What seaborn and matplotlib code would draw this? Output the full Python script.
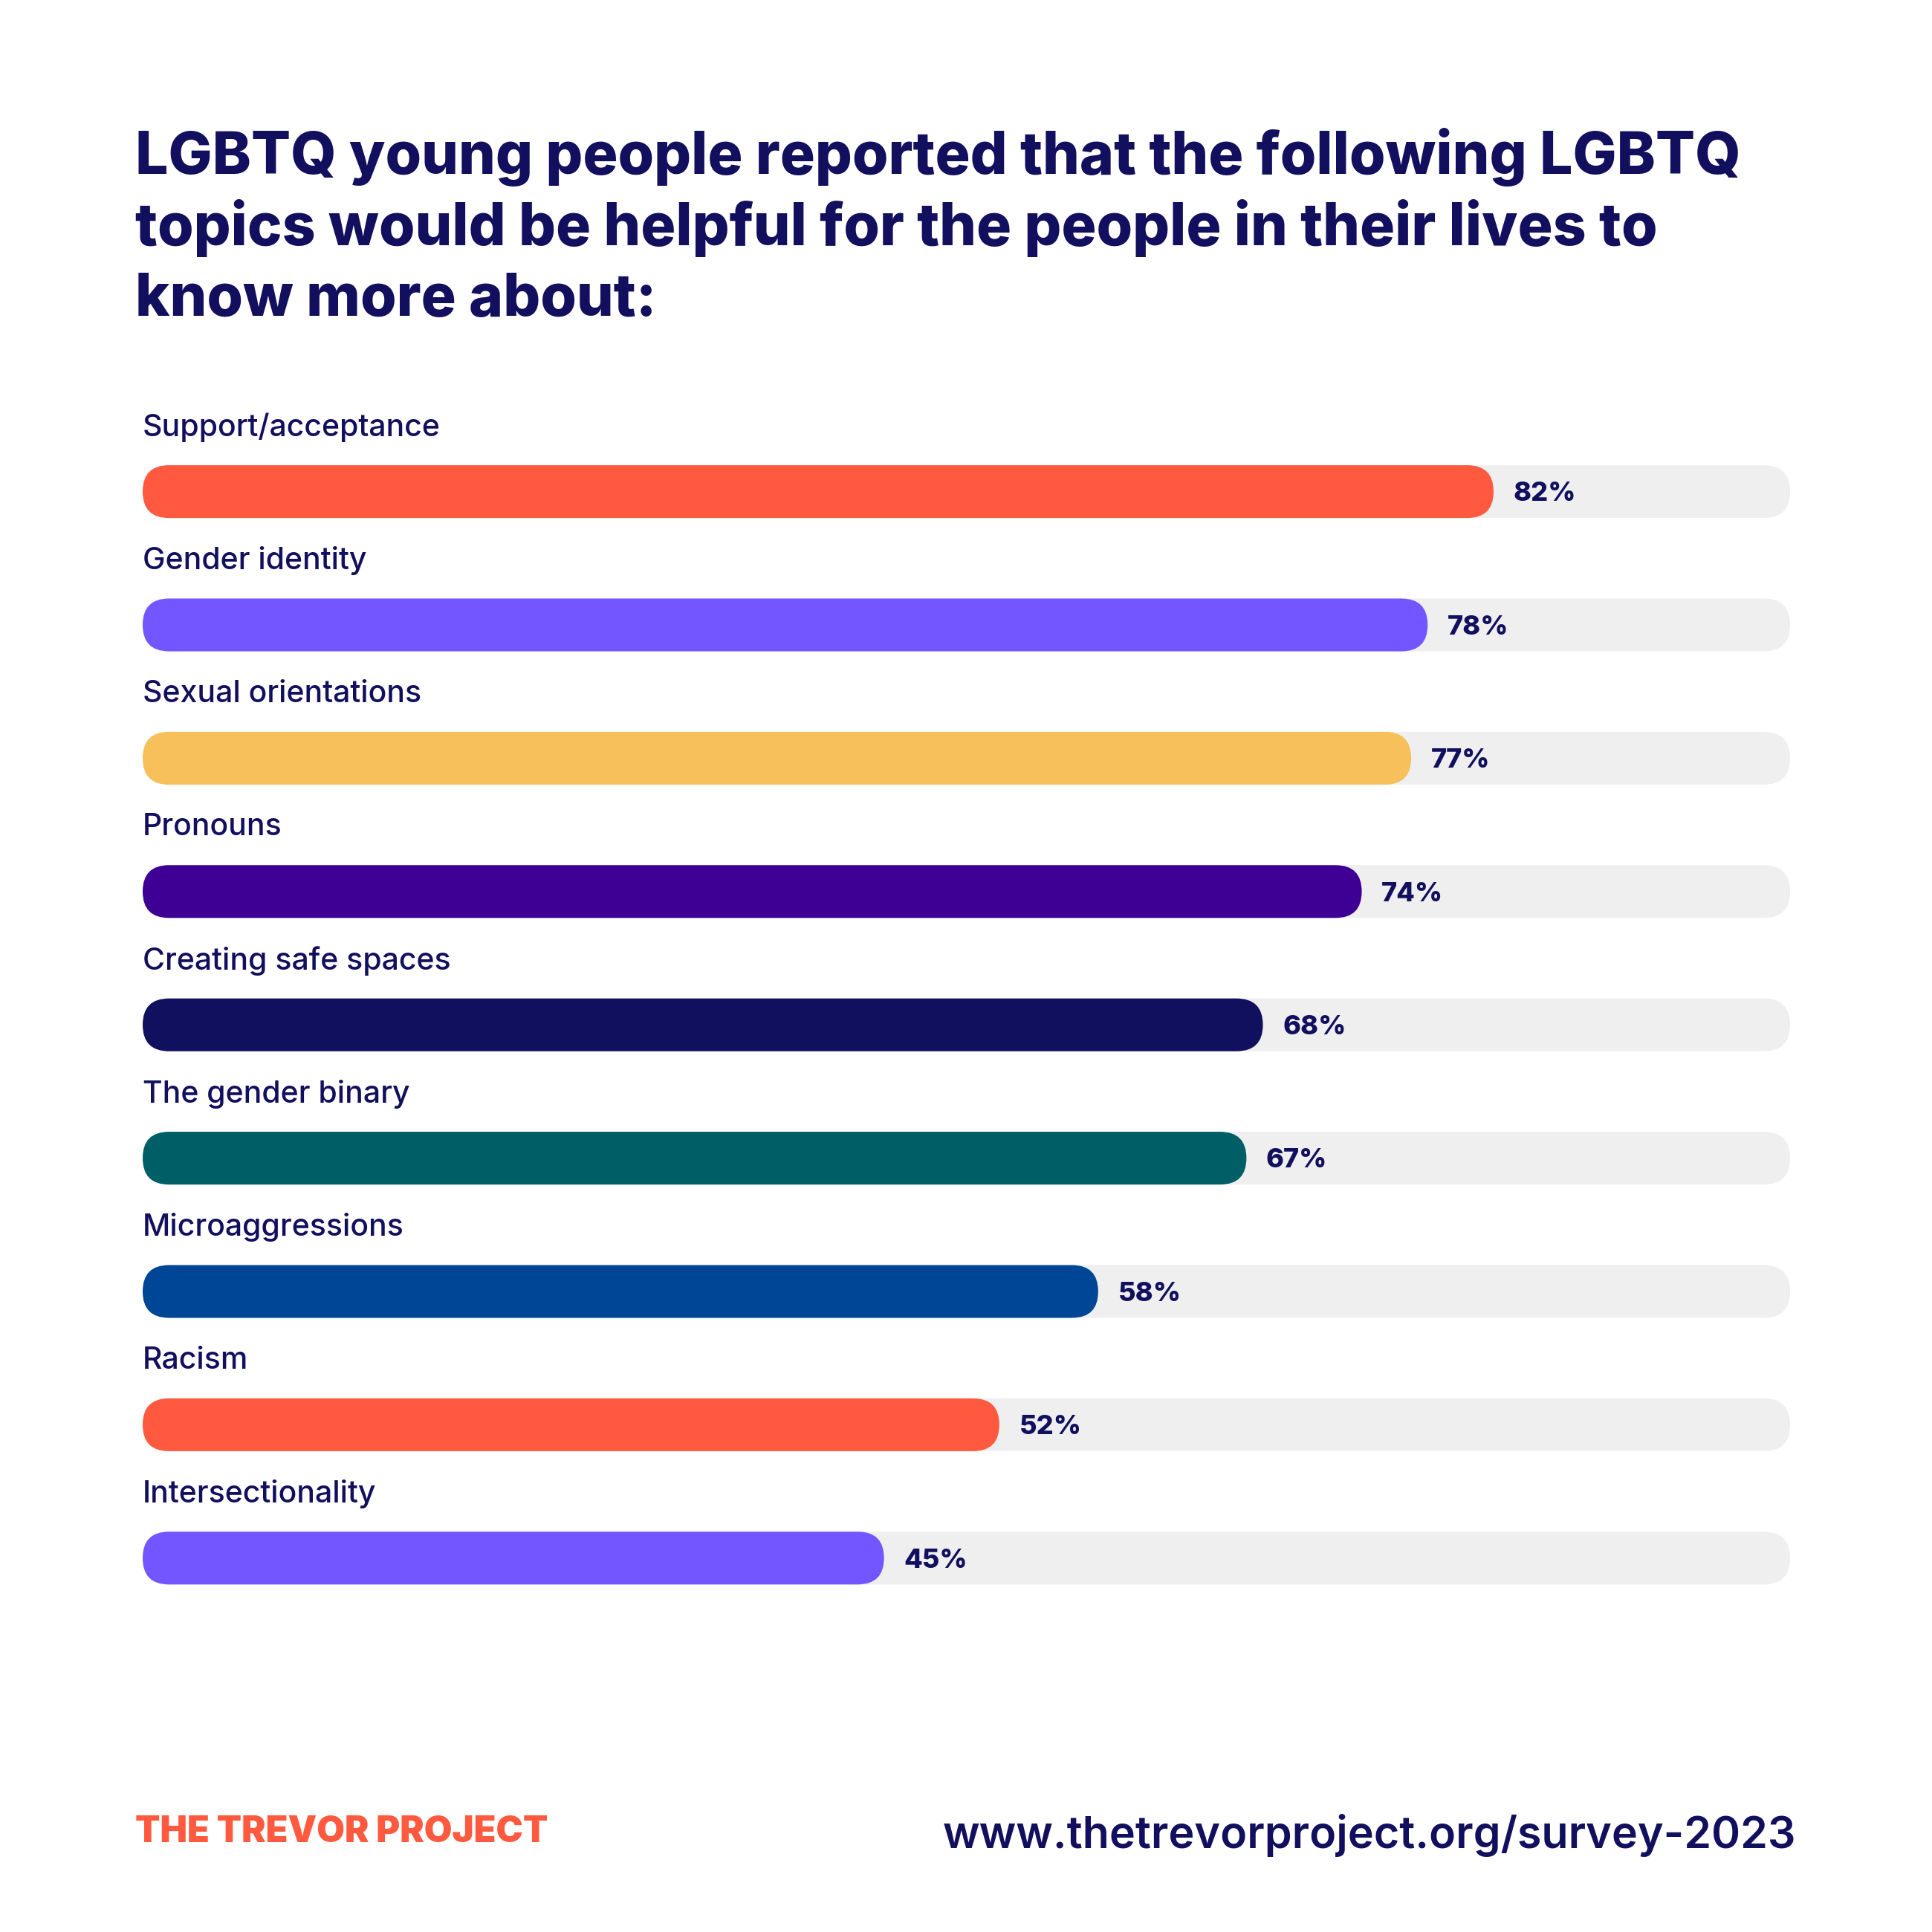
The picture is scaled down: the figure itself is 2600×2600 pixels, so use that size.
import matplotlib
matplotlib.use("Agg")
import matplotlib.pyplot as plt
from matplotlib.patches import FancyBboxPatch
import seaborn as sns
import pandas as pd

topics = ["Support/acceptance", "Gender identity", "Sexual orientations", "Pronouns",
          "Creating safe spaces", "The gender binary", "Microaggressions", "Racism",
          "Intersectionality"]
values = [82, 78, 77, 74, 68, 67, 58, 52, 45]
colors = ["#FF5A3F", "#7356FF", "#F8C05A", "#3E0094", "#10105F", "#005F66",
          "#004696", "#FF5A3F", "#7356FF"]
track = [100] * len(topics)

title_lines = ["LGBTQ young people reported that the following LGBTQ",
               "topics would be helpful for the people in their lives to",
               "know more about:"]
url = "www.thetrevorproject.org/survey-2023"
brand = "THE TREVOR PROJECT"

NAVY = "#12105E"
TRACK = "#EFEFEF"

df = pd.DataFrame({"topic": topics, "value": values, "track": track})

sns.set_theme(style="white")
plt.rcParams["font.family"] = ["Inter", "DejaVu Sans"]

W = H = 2600
fig = plt.figure(figsize=(26, 26), dpi=100)
fig.patch.set_facecolor("white")

# bar area: x 0..100 -> px 192..2409, rows spaced ~179 px
ax = fig.add_axes([192 / W, 1 - 2186.5 / H, 2217 / W, 1614.6 / H])
bar_h = 0.396

sns.barplot(data=df, x="track", y="topic", color=TRACK, width=bar_h,
            orient="h", ax=ax, saturation=1)
n_track = len(ax.patches)
sns.barplot(data=df, x="value", y="topic", hue="topic", palette=colors,
            width=bar_h, orient="h", ax=ax, legend=False, saturation=1)

ax.set_xlim(0, 100)
ax.set_ylim(len(topics) - 0.5, -0.5)

# swap the square bars for pill-shaped ones
px_x = 2217 / 100
px_y = 1614.6 / len(topics)
aspect = px_x / px_y
radius = bar_h * px_y / 2 / px_x
old = list(ax.patches)
for i, p in enumerate(old):
    x, y, w, h = p.get_x(), p.get_y(), p.get_width(), p.get_height()
    fc = p.get_facecolor()
    p.remove()
    pill = FancyBboxPatch((x, y), w, h,
                          boxstyle=f"round,pad=0,rounding_size={radius}",
                          mutation_aspect=aspect, facecolor=fc, edgecolor="none",
                          zorder=1 if i < n_track else 2)
    ax.add_patch(pill)

for i, (t, v) in enumerate(zip(topics, values)):
    ax.text(0, i - 0.482, t, ha="left", va="center", fontsize=29.5,
            fontweight="medium", color=NAVY)
    ax.text(v + 1.2, i + 0.018, f"{v}%", ha="left", va="center", fontsize=26,
            fontweight="heavy", color=NAVY)

ax.axis("off")

for k, line in enumerate(title_lines):
    fig.text(182 / W, 1 - (234 + 95.5 * k) / H, line, ha="left", va="baseline",
             fontsize=56.6, fontweight="heavy", color=NAVY)

fig.text(182 / W, 1 - 2479 / H, brand, ha="left", va="baseline",
         fontsize=35.1, fontweight="black", color="#FF5A3F")
fig.text(2417 / W, 1 - 2487 / H, url, ha="right", va="baseline",
         fontsize=42.6, fontweight="semibold", color=NAVY)

fig.savefig("out.png", dpi=100, facecolor="white")
